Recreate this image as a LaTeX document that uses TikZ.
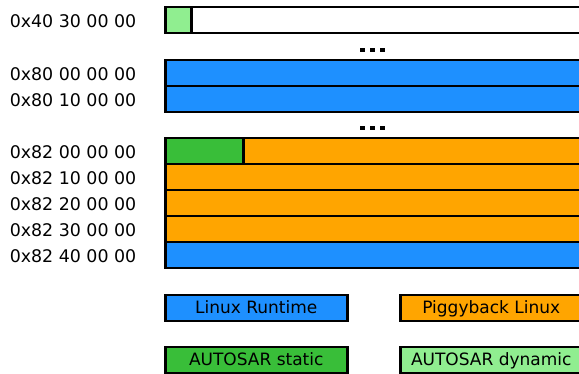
\documentclass[tikz,border=0pt]{standalone}
\usepackage{fontspec}
\setmainfont{DejaVu Sans}
\definecolor{lrblue}{HTML}{1E90FF}
\definecolor{pborange}{HTML}{FFA500}
\definecolor{asgreen}{HTML}{39BE39}
\definecolor{adgreen}{HTML}{90EE90}
\begin{document}
\begin{tikzpicture}[x=1pt,y=-1pt,
  cell/.style={draw=black, line width=2.5pt, inner sep=0pt, anchor=north west, minimum height=26pt},
  row/.style={cell, minimum width=440pt},
  addr/.style={anchor=east, inner sep=0pt, font=\fontsize{17.4}{20}\selectfont},
  legendbox/.style={cell, minimum width=182pt, text height=10.6pt, text depth=0pt, font=\fontsize{17}{20}\selectfont},
  sqdot/.style={fill=black, inner sep=0pt, minimum size=4.3pt}]
\useasboundingbox (0,0) rectangle (579,374);
\clip (0,0) rectangle (579,374);
% rows
\node[row, fill=white] (r40) at (164,6) {};
\node[cell, minimum width=26pt, fill=adgreen] (r40a) at (164,6) {};
\node[row, fill=lrblue] (r80a) at (164,59) {};
\node[row, fill=lrblue] (r80b) at (164,85) {};
\node[row, fill=pborange] (r82a) at (164,137) {};
\node[cell, minimum width=78pt, fill=asgreen] (r82as) at (164,137) {};
\node[row, fill=pborange] (r82b) at (164,163) {};
\node[row, fill=pborange] (r82c) at (164,189) {};
\node[row, fill=pborange] (r82d) at (164,215) {};
\node[row, fill=lrblue] (r82e) at (164,241) {};
% addresses
\node[addr] (l40) at (136.5,21) {0x40 30 00 00};
\node[addr] (l80a) at (136.5,74) {0x80 00 00 00};
\node[addr] (l80b) at (136.5,100) {0x80 10 00 00};
\node[addr] (l82a) at (136.5,152.5) {0x82 00 00 00};
\node[addr] (l82b) at (136.5,178.5) {0x82 10 00 00};
\node[addr] (l82c) at (136.5,204.5) {0x82 20 00 00};
\node[addr] (l82d) at (136.5,230.5) {0x82 30 00 00};
\node[addr] (l82e) at (136.5,256.5) {0x82 40 00 00};
% ellipses
\node[sqdot] (d1a) at (362.5,50) {};
\node[sqdot] (d1b) at (372.5,50) {};
\node[sqdot] (d1c) at (382.5,50) {};
\node[sqdot] (d2a) at (362.5,128) {};
\node[sqdot] (d2b) at (372.5,128) {};
\node[sqdot] (d2c) at (382.5,128) {};
% legend
\node[legendbox, fill=lrblue] (lg1) at (164,294) {Linux Runtime};
\node[legendbox, fill=pborange] (lg2) at (399,294) {Piggyback Linux};
\node[legendbox, fill=asgreen] (lg3) at (164,346) {AUTOSAR static};
\node[legendbox, fill=adgreen] (lg4) at (399,346) {AUTOSAR dynamic};
\end{tikzpicture}
\end{document}
